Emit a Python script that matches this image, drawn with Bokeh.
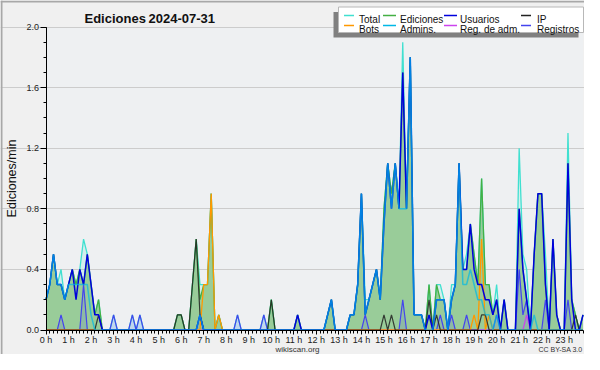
import math
from bokeh.plotting import figure
from bokeh.models import Range1d, FixedTicker, Label, PrintfTickFormatter
from bokeh.embed import file_html
from bokeh.resources import INLINE

# ---------------- data (edits per minute, one point every 10 minutes) -------------
STEPS = 144
hours = [i / 6 for i in range(STEPS)]

total = [
    0.2, 0.3, 0.5, 0.3, 0.4, 0.2, 0.3, 0.4, 0.3, 0.4, 0.6, 0.5,
    0.3, 0.1, 0.2, 0, 0, 0, 0.1, 0, 0, 0, 0, 0.1,
    0, 0.1, 0, 0, 0, 0, 0, 0, 0, 0, 0, 0.1,
    0.1, 0, 0, 0.3, 0.6, 0.3, 0.3, 0.3, 0.9, 0, 0.1, 0,
    0, 0, 0, 0.1, 0, 0, 0, 0, 0, 0, 0.1, 0,
    0.2, 0, 0, 0, 0, 0, 0, 0.1, 0, 0, 0, 0,
    0, 0, 0, 0.1, 0.2, 0, 0, 0, 0, 0.1, 0.1, 0.3,
    0.9, 0.2, 0.2, 0.3, 0.4, 0.2, 0.8, 1.1, 0.9, 1.1, 0.8, 1.9,
    0.8, 1.8, 0.1, 0.1, 0.1, 0, 0.3, 0, 0.3, 0.3, 0.2, 0,
    0.3, 0.3, 1.1, 0.4, 0.5, 0.7, 0.5, 0.3, 1.0, 0.3, 0.3, 0.1,
    0.3, 0, 0.2, 0, 0, 0, 1.2, 0.5, 0.4, 0, 0.5, 0.9,
    0.9, 0.5, 0, 0.6, 0.1, 0, 0, 1.3, 0.2, 0.1, 0, 0.1,
]
ediciones = [
    0.2, 0.3, 0.5, 0.3, 0.3, 0.2, 0.3, 0.4, 0.3, 0.4, 0.3, 0.5,
    0.3, 0.1, 0.2, 0, 0, 0, 0, 0, 0, 0, 0, 0,
    0, 0, 0, 0, 0, 0, 0, 0, 0, 0, 0, 0.1,
    0.1, 0, 0, 0.3, 0.6, 0.2, 0.3, 0.3, 0.9, 0, 0.1, 0,
    0, 0, 0, 0, 0, 0, 0, 0, 0, 0, 0, 0,
    0.2, 0, 0, 0, 0, 0, 0, 0.1, 0, 0, 0, 0,
    0, 0, 0, 0.1, 0.2, 0, 0, 0, 0, 0.1, 0.1, 0.3,
    0.9, 0.1, 0.2, 0.3, 0.4, 0.2, 0.8, 1.1, 0.9, 1.1, 0.8, 1.7,
    0.8, 1.8, 0.1, 0.1, 0.1, 0, 0.3, 0, 0.3, 0.2, 0.2, 0,
    0.2, 0.3, 1.1, 0.4, 0.4, 0.7, 0.5, 0.3, 1.0, 0.3, 0.3, 0.1,
    0.2, 0, 0.2, 0, 0, 0, 0.8, 0.4, 0.2, 0, 0.5, 0.9,
    0.9, 0.3, 0, 0.6, 0.1, 0, 0, 1.1, 0.2, 0.1, 0, 0.1,
]
usuarios = [
    0.2, 0.3, 0.5, 0.3, 0.3, 0.2, 0.3, 0.4, 0.2, 0.4, 0.3, 0.5,
    0.3, 0.1, 0.1, 0, 0, 0, 0, 0, 0, 0, 0, 0,
    0, 0, 0, 0, 0, 0, 0, 0, 0, 0, 0, 0,
    0, 0, 0, 0, 0, 0.1, 0, 0, 0, 0, 0, 0,
    0, 0, 0, 0, 0, 0, 0, 0, 0, 0, 0, 0,
    0, 0, 0, 0, 0, 0, 0, 0.1, 0, 0, 0, 0,
    0, 0, 0, 0.1, 0.2, 0, 0, 0, 0, 0.1, 0.1, 0.3,
    0.9, 0.1, 0.2, 0.3, 0.4, 0.2, 0.7, 1.1, 0.8, 1.1, 0.8, 1.7,
    0.8, 1.8, 0.1, 0.1, 0.1, 0, 0.1, 0, 0.2, 0.2, 0.2, 0,
    0.2, 0.3, 1.1, 0.4, 0.4, 0.7, 0.4, 0.3, 0.3, 0.2, 0.2, 0.1,
    0.2, 0, 0.2, 0, 0, 0, 0.8, 0.4, 0.2, 0, 0.5, 0.9,
    0.9, 0.3, 0, 0.6, 0.1, 0, 0, 1.1, 0.2, 0, 0, 0.1,
]
ip = [
    0, 0, 0, 0, 0, 0, 0, 0, 0, 0, 0, 0,
    0, 0, 0.1, 0, 0, 0, 0, 0, 0, 0, 0, 0,
    0, 0, 0, 0, 0, 0, 0, 0, 0, 0, 0, 0.1,
    0.1, 0, 0, 0.3, 0.6, 0.1, 0, 0, 0, 0, 0, 0,
    0, 0, 0, 0, 0, 0, 0, 0, 0, 0, 0, 0,
    0.2, 0, 0, 0, 0, 0, 0, 0, 0, 0, 0, 0,
    0, 0, 0, 0, 0, 0, 0, 0, 0, 0, 0, 0,
    0, 0, 0, 0, 0, 0, 0.1, 0, 0.1, 0, 0, 0,
    0, 0, 0, 0, 0, 0, 0.2, 0, 0.1, 0, 0, 0,
    0, 0, 0, 0, 0, 0, 0, 0, 0.1, 0.1, 0, 0,
    0, 0, 0, 0, 0, 0, 0, 0, 0, 0, 0, 0,
    0, 0, 0, 0, 0, 0, 0, 0, 0, 0.1, 0, 0,
]
bots = [
    0, 0, 0, 0, 0, 0, 0, 0, 0, 0, 0, 0,
    0, 0, 0, 0, 0, 0, 0, 0, 0, 0, 0, 0,
    0, 0, 0, 0, 0, 0, 0, 0, 0, 0, 0, 0,
    0, 0, 0, 0, 0, 0, 0.3, 0.3, 0.9, 0, 0.1, 0,
    0, 0, 0, 0, 0, 0, 0, 0, 0, 0, 0, 0,
    0, 0, 0, 0, 0, 0, 0, 0, 0, 0, 0, 0,
    0, 0, 0, 0, 0, 0, 0, 0, 0, 0, 0, 0,
    0, 0, 0, 0, 0, 0, 0, 0, 0, 0, 0, 0,
    0, 0, 0, 0, 0, 0, 0, 0, 0, 0, 0, 0,
    0, 0, 0, 0, 0, 0, 0.1, 0, 0.6, 0, 0.1, 0,
    0, 0, 0, 0, 0, 0, 0, 0, 0, 0, 0, 0,
    0, 0, 0, 0, 0, 0, 0, 0, 0, 0, 0, 0,
]
admins = [
    0.2, 0.3, 0.5, 0.3, 0.3, 0.2, 0.3, 0.3, 0.3, 0.3, 0.3, 0.3,
    0.1, 0, 0, 0, 0, 0, 0, 0, 0, 0, 0, 0,
    0, 0, 0, 0, 0, 0, 0, 0, 0, 0, 0, 0,
    0, 0, 0, 0, 0, 0.1, 0, 0, 0, 0, 0, 0,
    0, 0, 0, 0, 0, 0, 0, 0, 0, 0, 0, 0,
    0, 0, 0, 0, 0, 0, 0, 0, 0, 0, 0, 0,
    0, 0, 0, 0.1, 0.2, 0, 0, 0, 0, 0.1, 0.1, 0.3,
    0.9, 0.1, 0.2, 0.3, 0.4, 0.2, 0.7, 1.1, 0.8, 1.1, 0.8, 0.8,
    0.8, 1.8, 0.1, 0.1, 0.1, 0, 0, 0, 0.2, 0.2, 0.2, 0,
    0.2, 0.3, 1.1, 0.3, 0.3, 0.4, 0.3, 0.2, 0.2, 0.1, 0.1, 0,
    0.1, 0, 0, 0, 0, 0, 0, 0, 0, 0, 0.1, 0,
    0, 0, 0, 0, 0, 0, 0, 0, 0, 0, 0, 0,
]
reg_adm = [
    0, 0, 0, 0, 0, 0, 0, 0, 0, 0, 0, 0,
    0, 0, 0, 0, 0, 0, 0, 0, 0, 0, 0, 0,
    0, 0, 0, 0, 0, 0, 0, 0, 0, 0, 0, 0,
    0, 0, 0, 0, 0, 0, 0, 0, 0, 0, 0, 0,
    0, 0, 0, 0, 0, 0, 0, 0, 0, 0, 0, 0,
    0, 0, 0, 0, 0, 0, 0, 0, 0, 0, 0, 0,
    0, 0, 0, 0, 0, 0, 0, 0, 0, 0, 0, 0,
    0, 0, 0, 0, 0, 0, 0, 0, 0, 0, 0, 0,
    0, 0, 0, 0, 0, 0, 0, 0, 0, 0, 0, 0,
    0, 0, 0, 0, 0, 0, 0, 0, 0, 0, 0, 0,
    0, 0, 0, 0, 0, 0, 0, 0, 0.1, 0, 0, 0,
    0, 0, 0, 0, 0, 0, 0, 0, 0, 0, 0, 0,
]
registros = [
    0, 0, 0, 0, 0.1, 0, 0, 0, 0, 0, 0.3, 0,
    0, 0, 0, 0, 0, 0, 0.1, 0, 0, 0, 0, 0.1,
    0, 0.1, 0, 0, 0, 0, 0, 0, 0, 0, 0, 0,
    0, 0, 0, 0, 0, 0.1, 0, 0, 0, 0, 0, 0,
    0, 0, 0, 0.1, 0, 0, 0, 0, 0, 0, 0.1, 0,
    0, 0, 0, 0, 0, 0, 0, 0, 0, 0, 0, 0,
    0, 0, 0, 0, 0, 0, 0, 0, 0, 0, 0, 0,
    0, 0.1, 0, 0, 0, 0, 0, 0, 0, 0, 0, 0.2,
    0, 0, 0, 0, 0, 0, 0, 0, 0, 0.1, 0, 0,
    0.1, 0, 0, 0, 0.1, 0, 0, 0, 0, 0, 0, 0,
    0.1, 0, 0, 0, 0, 0, 0.4, 0.1, 0.2, 0, 0, 0,
    0, 0.2, 0, 0, 0, 0, 0, 0.2, 0, 0, 0, 0,
]

hour_ticks = list(range(24))
hour_labels = {h: f"{h} h" for h in hour_ticks}
y_major = [0.0, 0.4, 0.8, 1.2, 1.6, 2.0]
y_minor = [k / 10 for k in range(21)]
Y_TOP = 2.0

series_names = ["Total", "Ediciones", "Usuarios", "IP",
                "Bots", "Admins.", "Reg. de adm.", "Registros"]

# ---------------- styles ----------------
C_TOTAL = "#40e0d0"
C_EDI_LINE = "#44b044"
C_EDI_FILL = "#99cc99"
C_USU = "#0000dd"
C_IP = "#222222"
C_BOTS = "#ff9900"
C_ADM = "#00b8e6"
C_RADM = "#cc44ee"
C_REG = "#4444ee"
FONT = "Liberation Sans"

# pixel <-> data helpers for layout (frame covers the whole canvas)
X0 = 45.5                       # pixel of 0 h
PXH = 537.0 / hours[-1]         # pixels per hour
Y0 = 329.5                      # pixel of 0 edits/min
PXV = 151.5                     # pixels per 1 edit/min


def dx(px):
    return (px - X0) / PXH


def dy(py):
    return (Y0 - py) / PXV


W, H = 584, 354
p = figure(width=W, height=H,
           x_range=Range1d(dx(0), dx(W)), y_range=Range1d(dy(H), dy(0)),
           output_backend="svg", toolbar_location=None, title=None,
           min_border_left=0, min_border_right=0, min_border_top=0,
           min_border_bottom=0,
           background_fill_color="#f0f0f0", border_fill_color="#f0f0f0",
           outline_line_color=None)

# plot-area background
p.quad(left=[0], right=[hours[-1]], bottom=[0], top=[Y_TOP],
       fill_color="#eef0f2", line_color=None, level="image")

# axes (fixed at the data origin, inside the canvas)
xa = p.xaxis[0]
xa.fixed_location = 0
xa.bounds = (0, hours[-1])
xa.ticker = FixedTicker(ticks=hour_ticks, minor_ticks=hours)
xa.major_label_overrides = hour_labels
xa.axis_line_color = "black"
xa.major_tick_in = 0
xa.major_tick_out = 4
xa.minor_tick_in = 0
xa.minor_tick_out = 3
xa.major_tick_line_color = "black"
xa.minor_tick_line_color = "black"
xa.major_label_standoff = 1
xa.major_label_text_font = FONT
xa.major_label_text_font_size = "9px"
xa.major_label_text_color = "#222222"

ya = p.yaxis[0]
ya.fixed_location = 0
ya.bounds = (0, Y_TOP)
ya.ticker = FixedTicker(ticks=y_major, minor_ticks=y_minor)
ya.formatter = PrintfTickFormatter(format="%.1f")
ya.axis_line_color = "black"
ya.major_tick_in = 0
ya.major_tick_out = 6
ya.minor_tick_in = 0
ya.minor_tick_out = 3
ya.major_tick_line_color = "black"
ya.minor_tick_line_color = "black"
ya.major_label_standoff = 1
ya.major_label_text_font = FONT
ya.major_label_text_font_size = "9px"
ya.major_label_text_color = "#222222"

p.xgrid.visible = False
p.ygrid.ticker = FixedTicker(ticks=y_major[1:])
p.ygrid.bounds = (0, hours[-1])
p.ygrid.grid_line_color = "#cccccc"

# fills
p.varea(x=hours, y1=0, y2=total, fill_color=C_TOTAL, fill_alpha=0.15)
p.varea(x=hours, y1=0, y2=ediciones, fill_color=C_EDI_FILL, fill_alpha=1.0)
p.varea(x=hours, y1=0, y2=registros, fill_color=C_REG, fill_alpha=0.13)

# lines
p.line(hours, total, line_color=C_TOTAL, line_width=1.3)
p.line(hours, ediciones, line_color=C_EDI_LINE, line_width=1.3)
p.line(hours, registros, line_color=C_REG, line_width=1.2)
p.line(hours, reg_adm, line_color=C_RADM, line_width=1.2)
p.line(hours, bots, line_color=C_BOTS, line_width=1.3)
p.line(hours, ip, line_color=C_IP, line_width=1.2, line_alpha=0.85)
p.line(hours, usuarios, line_color=C_USU, line_width=1.5)
p.line(hours, admins, line_color=C_ADM, line_width=1.5, line_alpha=0.7)

# canvas border (left / top)
p.segment(x0=[dx(1)], y0=[dy(0)], x1=[dx(1)], y1=[dy(H)],
          line_color="#a8a8a8", line_width=2)
p.segment(x0=[dx(0)], y0=[dy(1)], x1=[dx(W)], y1=[dy(1)],
          line_color="#a8a8a8", line_width=2)

# legend box with shadow
LX = -8.5
LY = -4.5
p.quad(left=[dx(341.5 + LX)], right=[dx(586.5 + LX)],
       top=[dy(16 + LY)], bottom=[dy(41.5 + LY)],
       fill_color="#808080", line_color=None)
p.quad(left=[dx(346.5 + LX)], right=[dx(591.5 + LX)],
       top=[dy(11 + LY)], bottom=[dy(36.5 + LY)],
       fill_color="white", line_color="#b8b8b8", line_width=1)

legend_colors = [C_TOTAL, C_EDI_LINE, C_USU, C_IP, C_BOTS, C_ADM, C_RADM, C_REG]
sw_x = [(352, 362), (391, 404), (452, 465), (529, 539)]
txt_x = [367, 408, 468, 545]
row_sw_y = [19.5, 29.5]
row_txt_y = [23.5, 33.5]
for k, name in enumerate(series_names):
    r, c = divmod(k, 4)
    p.segment(x0=[dx(sw_x[c][0] + LX)], x1=[dx(sw_x[c][1] + LX)],
              y0=[dy(row_sw_y[r] + LY)], y1=[dy(row_sw_y[r] + LY)],
              line_color=legend_colors[k], line_width=1.6)
    p.add_layout(Label(x=dx(txt_x[c] + LX), y=dy(row_txt_y[r] + LY), text=name,
                       text_font=FONT, text_font_size="10px",
                       text_color="#111111", text_baseline="alphabetic",
                       text_align="left"))

# title
p.add_layout(Label(x=dx(84), y=dy(17.5), text="Ediciones",
                   text_font=FONT, text_font_size="13px", text_font_style="bold",
                   text_color="#111111", text_baseline="alphabetic"))
p.add_layout(Label(x=dx(148), y=dy(17.5), text="2024-07-31",
                   text_font=FONT, text_font_size="13px", text_font_style="bold",
                   text_color="#111111", text_baseline="alphabetic"))

# y axis label
p.add_layout(Label(x=dx(11.5), y=dy(178), text="Ediciones/min", angle=math.pi / 2,
                   text_font=FONT, text_font_size="12.5px", text_color="#111111",
                   text_align="center", text_baseline="middle"))

# footer
p.add_layout(Label(x=dx(297), y=dy(349), text="wikiscan.org",
                   text_font=FONT, text_font_size="8px", text_color="#333333",
                   text_align="center", text_baseline="alphabetic"))
p.add_layout(Label(x=dx(582), y=dy(349), text="CC BY-SA 3.0",
                   text_font=FONT, text_font_size="7px", text_color="#333333",
                   text_align="right", text_baseline="alphabetic"))

open("out.html", "w").write(file_html(p, INLINE))
